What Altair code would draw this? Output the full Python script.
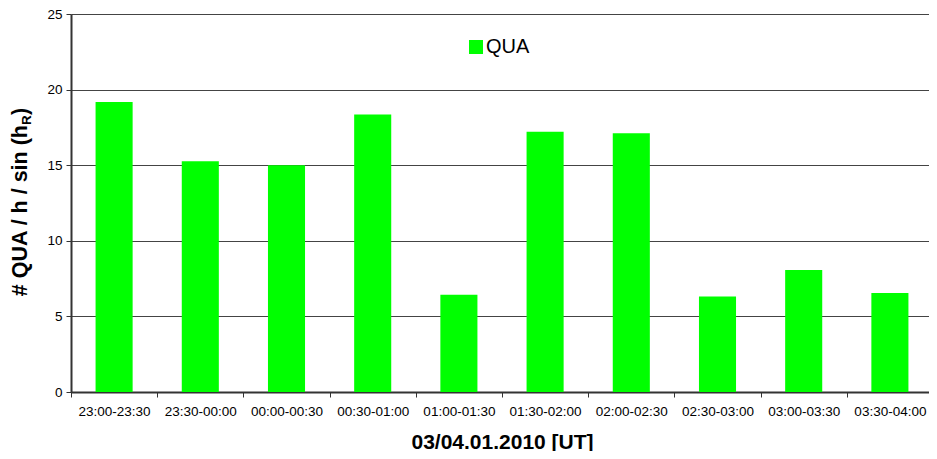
import altair as alt
import pandas as pd

categories = ["23:00-23:30", "23:30-00:00", "00:00-00:30", "00:30-01:00", "01:00-01:30",
              "01:30-02:00", "02:00-02:30", "02:30-03:00", "03:00-03:30", "03:30-04:00"]
qua_values = [19.18, 15.26, 15.0, 18.35, 6.44, 17.22, 17.11, 6.31, 8.07, 6.55]
series_name = "QUA"
y_ticks = [0, 5, 10, 15, 20, 25]

df = pd.DataFrame({"interval": categories, "value": qua_values, "series": series_name})

FONT = "Liberation Sans"

bars = alt.Chart(df).mark_bar(width=alt.RelativeBandSize(0.43)).encode(
    x=alt.X("interval:N", sort=categories,
            scale=alt.Scale(paddingInner=0, paddingOuter=0),
            axis=alt.Axis(title="03/04.01.2010 [UT]", labelAngle=0, tickBand="extent",
                          labelFontSize=13.5, labelColor="#000", labelPadding=7,
                          tickSize=5, tickColor="#333", domainColor="#333", domainWidth=2,
                          titleFontSize=21, titleFontWeight="bold", titleColor="#000",
                          titleBaseline="alphabetic", titleY=56, grid=False)),
    y=alt.Y("value:Q", scale=alt.Scale(domain=[0, 25], nice=False),
            axis=alt.Axis(title=None, values=y_ticks, labelFontSize=13.5, labelColor="#000",
                          labelPadding=4, tickSize=5, tickColor="#333",
                          domainColor="#333", domainWidth=2,
                          grid=True, gridColor="#444", gridWidth=1)),
    color=alt.Color("series:N", scale=alt.Scale(range=["#00ff00"]),
                    legend=alt.Legend(title=None, orient="none", legendX=395, legendY=23,
                                      symbolType="square", symbolSize=196,
                                      symbolStrokeWidth=0, labelFontSize=20,
                                      labelColor="#000", labelOffset=0, padding=0)),
)

def title_part(text, x, y, size, align):
    return alt.Chart(pd.DataFrame({"t": [text]})).mark_text(
        angle=270, align=align, baseline="alphabetic", font=FONT,
        fontSize=size, fontWeight="bold", color="#000"
    ).encode(text="t:N", x=alt.value(x), y=alt.value(y))

t_main = title_part("# QUA / h / sin (h", -44, 111, 21.5, "right")
t_sub = title_part("R", -40, 111, 13.5, "left")
t_close = title_part(")", -44, 101, 21.5, "left")

chart = alt.layer(bars, t_main, t_sub, t_close).properties(
    width=862, height=378,
    autosize=alt.AutoSizeParams(type="none"),
    padding={"left": 63, "top": 6, "right": -4, "bottom": 59},
).configure_view(stroke=None).configure(font=FONT)

chart.save("out.html", embed_options={"renderer": "svg", "actions": False})
